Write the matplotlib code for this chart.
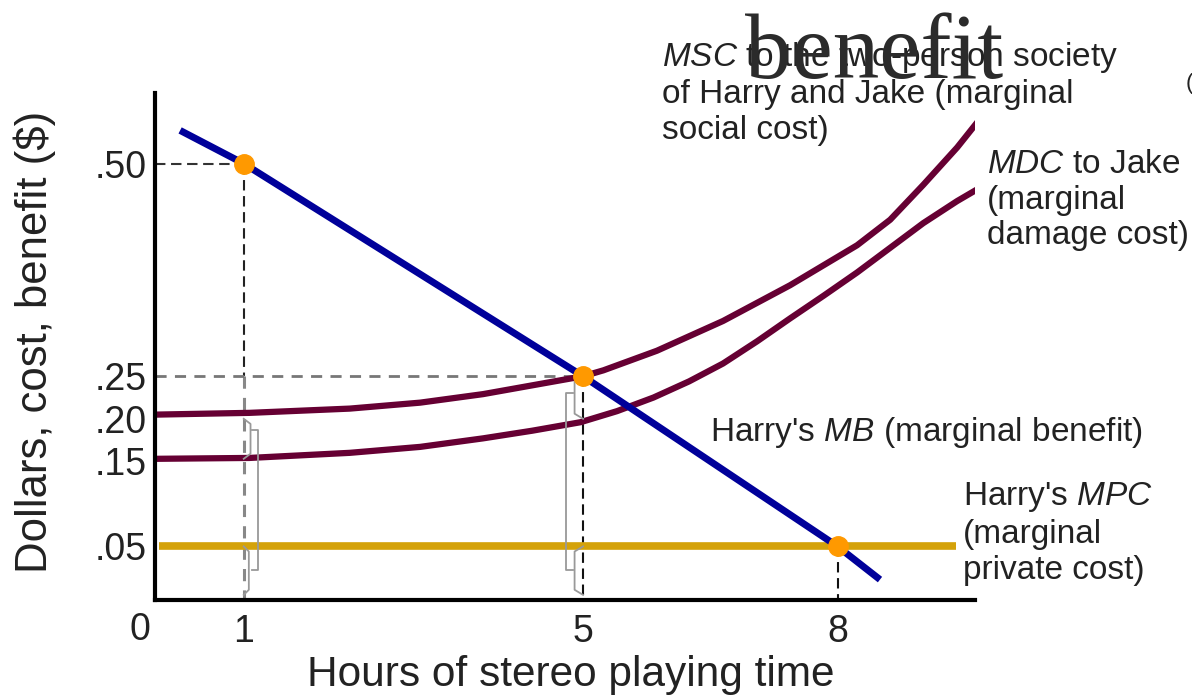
import matplotlib
matplotlib.use('Agg')
import matplotlib.pyplot as plt
from matplotlib.transforms import Affine2D

# values
mb_x = [0.25, 1, 5, 8, 8.5]
mb_y = [0.539, 0.50, 0.25, 0.05, 0.011]

msc_x = [0, 1.07, 2.25, 3.08, 3.82, 4.55, 5.0, 5.24, 5.87, 6.65, 7.44, 8.23, 8.62, 9.01, 9.41, 9.65]
msc_y = [0.205, 0.207, 0.212, 0.219, 0.229, 0.242, 0.25, 0.257, 0.280, 0.315, 0.357, 0.404, 0.434, 0.475, 0.519, 0.549]

mdc_x = [0, 1.07, 2.25, 3.08, 3.82, 4.4, 4.97, 5.4, 5.83, 6.25, 6.65, 7.05, 7.44, 7.84, 8.23, 8.62, 9.01, 9.41, 9.65]
mdc_y = [0.153, 0.154, 0.160, 0.167, 0.177, 0.186, 0.196, 0.209, 0.225, 0.244, 0.265, 0.291, 0.318, 0.345, 0.372, 0.401, 0.430, 0.456, 0.470]

mpc_x = [0, 9.4]
mpc_y = [0.05, 0.05]

points_x = [1, 5, 8]
points_y = [0.50, 0.25, 0.05]

xtick_vals = [1, 5, 8]
ytick_vals = [0.50, 0.25, 0.20, 0.15, 0.05]
ytick_labels = ['.50', '.25', '.20', '.15', '.05']

plt.rcParams['font.family'] = ['Liberation Sans', 'DejaVu Sans']
plt.rcParams['mathtext.fontset'] = 'custom'
plt.rcParams['mathtext.rm'] = 'Liberation Sans'
plt.rcParams['mathtext.it'] = 'Liberation Sans:italic'

W, H = 1192, 698
fig = plt.figure(figsize=(W / 100, H / 100), dpi=100)
ax = fig.add_axes([155 / W, 1 - 600 / H, 820 / W, 507 / H])
# pixel coordinates for the loose text
px = Affine2D().scale(1 / W, -1 / H).translate(0, 1) + fig.transFigure

ax.set_xlim(-0.046, 9.62)
ax.set_ylim(-0.013, 0.583)

maroon = '#660033'
txt = '#222222'

# dashed guide lines
dash = dict(lw=1.5, dashes=(5, 2.7))
ax.plot([ax.get_xlim()[0], 1], [0.5, 0.5], color='#333333', **dash)
ax.plot([1, 1], [0.5, 0.25], color='#222222', **dash)
ax.plot([1, 1], [0.25, -0.013], color='#888888', lw=2.2, dashes=(4, 3))
ax.plot([ax.get_xlim()[0], 5], [0.25, 0.25], color='#777777', lw=2, dashes=(4, 3))
ax.plot([5, 5], [0.25, -0.013], color='#111111', **dash)
ax.plot([8, 8], [0.05, -0.013], color='#111111', **dash)

# curves
ax.plot(mpc_x, mpc_y, color='#D4A20A', lw=5.5, solid_capstyle='butt')
ax.plot(msc_x, msc_y, color=maroon, lw=4.5, solid_joinstyle='round')
ax.plot(mdc_x, mdc_y, color=maroon, lw=4.5, solid_joinstyle='round')
ax.plot(mb_x, mb_y, color='#00009A', lw=5, solid_capstyle='butt')
ax.plot(points_x, points_y, 'o', color='#FF9900', ms=14, zorder=5)

# gray brackets showing MSC = MPC + MDC
def bracket(x, y0, y1, d, cap=0.006):
    ax.plot([x, x + d, x + d, x], [y0, y0 - cap, y1 + cap, y1],
            color='#999999', lw=1.3, zorder=4)

bracket(1.0, 0.200, 0.153, 0.08)
ax.plot([1.10, 1.17, 1.17, 1.10], [0.187, 0.187, 0.022, 0.022], color='#999999', lw=1.3, zorder=4)
bracket(1.0, 0.050, -0.007, 0.06)
bracket(5.0, 0.250, 0.200, -0.10)
ax.plot([4.88, 4.80, 4.80, 4.88], [0.230, 0.230, 0.022, 0.022], color='#999999', lw=1.3, zorder=4)
bracket(5.0, 0.050, -0.007, -0.10)

# axes styling
for s in ['top', 'right']:
    ax.spines[s].set_visible(False)
for s in ['left', 'bottom']:
    ax.spines[s].set_linewidth(3)
    ax.spines[s].set_color('black')
ax.set_xticks(xtick_vals)
ax.set_xticklabels([str(v) for v in xtick_vals])
ax.set_yticks(ytick_vals)
ax.set_yticklabels(ytick_labels)
ax.tick_params(length=0, labelsize=27, colors=txt)
ax.tick_params(axis='x', pad=10)
ax.tick_params(axis='y', pad=6)

fig.text(140, 630, '0', transform=px, fontsize=27, color=txt, ha='center', va='center')
fig.text(571, 675, 'Hours of stereo playing time', transform=px, fontsize=30.5,
         color=txt, ha='center', va='center')
fig.text(35, 342, 'Dollars, cost, benefit ($)', transform=px, fontsize=31.5,
         color=txt, ha='center', va='center', rotation=90)

lab = dict(transform=px, fontsize=24, color=txt, ha='left', va='center', linespacing=1.2)
fig.text(662, 93, '$\\mathit{MSC}$ to the two-person society\nof Harry and Jake (marginal\nsocial cost)', **lab)
fig.text(987, 200, '$\\mathit{MDC}$ to Jake\n(marginal\ndamage cost)', **lab)
fig.text(710, 432, "Harry's $\\mathit{MB}$ (marginal benefit)", **lab)
fig.text(963, 533, "Harry's $\\mathit{MPC}$\n(marginal\nprivate cost)", **lab)

# stray overlapping word at the top, as in the reference
fig.text(745, 78, 'benefit', transform=px, fontsize=67, color='#2b2b2b',
         family='Liberation Serif', ha='left', va='baseline')
fig.text(1186, 84, '(', transform=px, fontsize=16, color=txt, ha='left', va='center')

fig.savefig('out.png', dpi=100)
